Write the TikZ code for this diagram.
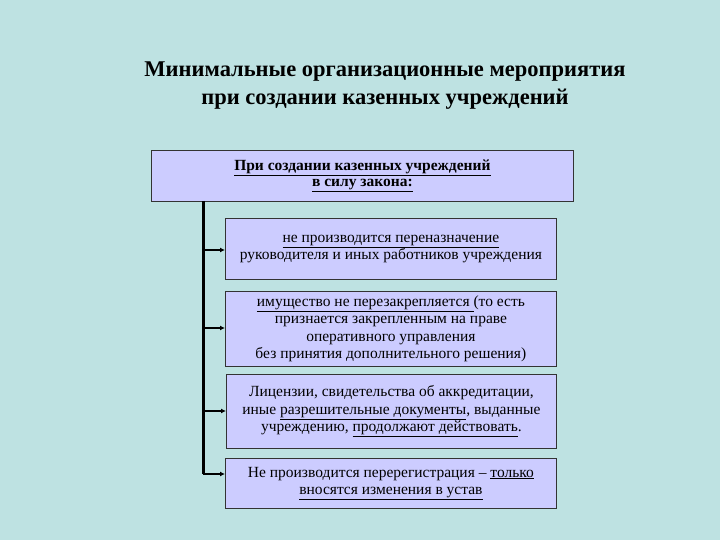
\documentclass[tikz,border=0pt]{standalone}
\usepackage{fontspec}
\setmainfont{Liberation Serif}
\usetikzlibrary{arrows.meta}
\definecolor{bg}{RGB}{190,226,226}
\definecolor{bx}{RGB}{204,204,255}
\newcommand{\ul}[1]{\underline{#1}}
\begin{document}
\begin{tikzpicture}[x=1pt,y=-1pt,
 box/.style={draw=black!80,fill=bx,line width=0.8pt,align=center,inner sep=2pt,font=\fontsize{15.5}{17.5}\selectfont},
 conn/.style={line width=2.2pt,-{Latex[length=5pt,width=5pt]}}]
\fill[bg] (0,0) rectangle (720,540);
\useasboundingbox (0,0) rectangle (720,540);
\node[font=\bfseries\fontsize{22.5}{28}\selectfont,align=center] (title) at (385,86) {Минимальные организационные мероприятия\\при создании казенных учреждений};
\node[box,minimum width=422,minimum height=51,anchor=north west,font=\bfseries\fontsize{15.5}{16}\selectfont] (top) at (151,150) {\ul{При создании казенных учреждений}\\\ul{в силу закона:}};
\node[box,minimum width=331,minimum height=61,anchor=north west] (b1) at (225,218) {\ul{не производится переназначение}\\руководителя и иных работников учреждения};
\node[box,minimum width=331,minimum height=75,anchor=north west] (b2) at (225,291) {\ul{имущество не перезакрепляется }(то есть\\признается закрепленным на праве\\оперативного управления\\без принятия дополнительного решения)};
\node[box,minimum width=330,minimum height=74,anchor=north west] (b3) at (226,374) {Лицензии, свидетельства об аккредитации,\\иные \ul{разрешительные документы}, выданные\\учреждению, \ul{продолжают действовать}.};
\node[box,minimum width=331,minimum height=50,anchor=north west] (b4) at (225,458) {Не производится перерегистрация – \ul{только}\\\ul{вносятся изменения в устав}};
\coordinate (v0) at (203,201);
\coordinate (v4) at (203,474);
\draw[line width=3pt] (v0) -- (v4);
\foreach \b/\y in {b1/250,b2/328,b3/411,b4/474}{
 \draw[conn] (203,\y) -- (\b.west |- 0,\y);
}
\end{tikzpicture}
\end{document}
